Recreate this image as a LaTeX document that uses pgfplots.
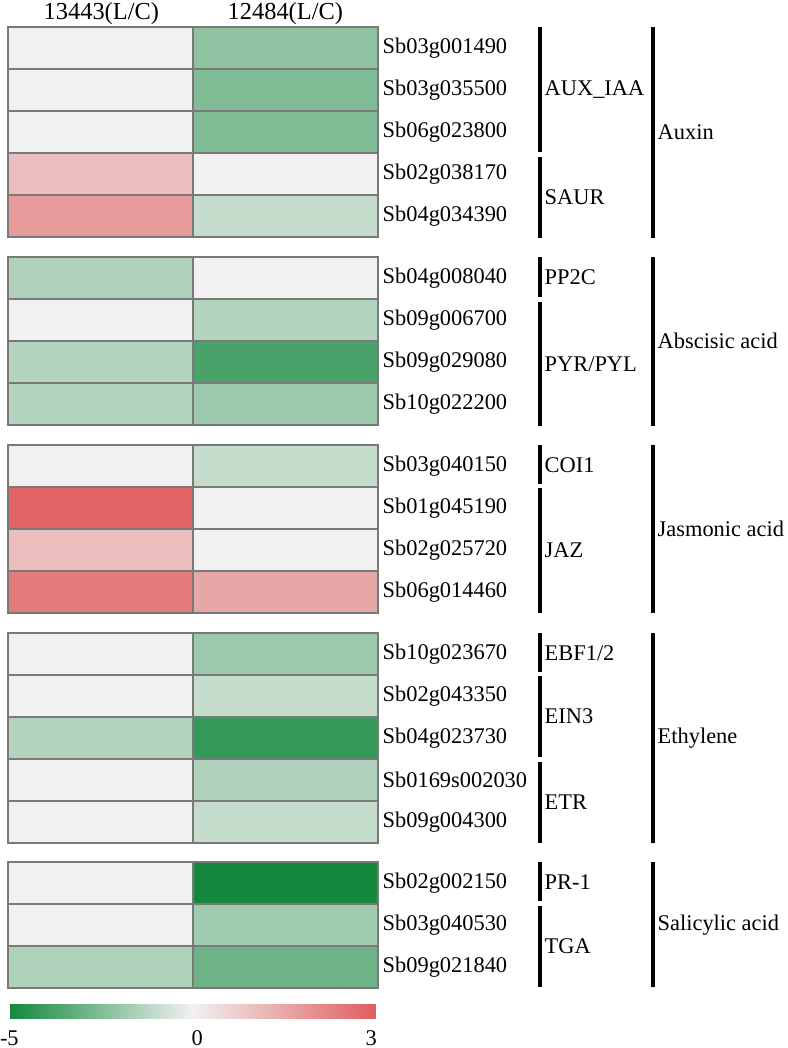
\documentclass[border=0pt]{standalone}
\usepackage{pgfplots}
\pgfplotsset{compat=1.18}
\usepackage{fontspec}
\setmainfont{Liberation Serif}

% pixel-like layout: 1 unit = 0.5pt, y runs downward
\newcommand{\lbl}{\fontsize{11.2}{13.4}\selectfont}
\newcommand{\hdr}{\fontsize{12.2}{14.6}\selectfont}

\begin{document}
\begin{tikzpicture}[
    cell/.style={gray!95!black, line width=1pt},
    lab/.style={font=\lbl, anchor=west, inner sep=0pt},
    brk/.style={line width=2pt},
]
\begin{axis}[
    scale only axis,
    width=393.5pt, height=524pt,
    xmin=0, xmax=787, ymin=0, ymax=1048,
    y dir=reverse,
    hide axis,
    clip=false,
    colormap={gwr}{rgb255(0cm)=(20,137,62); rgb255(5cm)=(241,241,241); rgb255(8cm)=(224,94,94)},
    point meta min=-5, point meta max=3,
]
\path (rel axis cs:0,0) rectangle (rel axis cs:1,1);

% Auxin
\addplot[matrix plot*, mesh/cols=2, point meta=explicit] coordinates {
(100.5,48) [0]    (285.5,48) [-2.25]
(100.5,90) [0]    (285.5,90) [-2.55]
(100.5,132) [0]   (285.5,132) [-2.55]
(100.5,174) [1.07] (285.5,174) [0]
(100.5,216) [1.78] (285.5,216) [-1.0]
};
% Abscisic acid
\addplot[matrix plot*, mesh/cols=2, point meta=explicit] coordinates {
(100.5,278) [-1.47] (285.5,278) [0]
(100.5,320) [0]     (285.5,320) [-1.4]
(100.5,362) [-1.38] (285.5,362) [-3.78]
(100.5,404) [-1.43] (285.5,404) [-1.92]
};
% Jasmonic acid
\addplot[matrix plot*, mesh/cols=2, point meta=explicit] coordinates {
(100.5,466) [0]    (285.5,466) [-1.0]
(100.5,508) [2.9]  (285.5,508) [0]
(100.5,550) [1.07] (285.5,550) [0]
(100.5,592) [2.4]  (285.5,592) [1.5]
};
% Ethylene
\addplot[matrix plot*, mesh/cols=2, point meta=explicit] coordinates {
(100.5,654) [0]     (285.5,654) [-1.92]
(100.5,696) [0]     (285.5,696) [-1.0]
(100.5,738) [-1.43] (285.5,738) [-4.25]
(100.5,780) [0]     (285.5,780) [-1.47]
(100.5,822) [0]     (285.5,822) [-1.0]
};
% Salicylic acid
\addplot[matrix plot*, mesh/cols=2, point meta=explicit] coordinates {
(100.5,883) [0]     (285.5,883) [-5]
(100.5,925) [0]     (285.5,925) [-1.83]
(100.5,967) [-1.54] (285.5,967) [-2.96]
};

% colour bar (0 sits in the middle)
\addplot[surf, shader=interp, mesh/cols=3, point meta=explicit] coordinates {
(10,1004) [-5] (192.5,1004) [0] (375,1004) [3]
(10,1018) [-5] (192.5,1018) [0] (375,1018) [3]
};

% cell borders
\draw[cell] (axis cs:8,27) rectangle (axis cs:378,237);
\draw[cell] (axis cs:193,27) -- (axis cs:193,237);
\draw[cell] (axis cs:8,69) -- (axis cs:378,69);
\draw[cell] (axis cs:8,111) -- (axis cs:378,111);
\draw[cell] (axis cs:8,153) -- (axis cs:378,153);
\draw[cell] (axis cs:8,195) -- (axis cs:378,195);

\draw[cell] (axis cs:8,257) rectangle (axis cs:378,425);
\draw[cell] (axis cs:193,257) -- (axis cs:193,425);
\draw[cell] (axis cs:8,299) -- (axis cs:378,299);
\draw[cell] (axis cs:8,341) -- (axis cs:378,341);
\draw[cell] (axis cs:8,383) -- (axis cs:378,383);

\draw[cell] (axis cs:8,445) rectangle (axis cs:378,613);
\draw[cell] (axis cs:193,445) -- (axis cs:193,613);
\draw[cell] (axis cs:8,487) -- (axis cs:378,487);
\draw[cell] (axis cs:8,529) -- (axis cs:378,529);
\draw[cell] (axis cs:8,571) -- (axis cs:378,571);

\draw[cell] (axis cs:8,633) rectangle (axis cs:378,843);
\draw[cell] (axis cs:193,633) -- (axis cs:193,843);
\draw[cell] (axis cs:8,675) -- (axis cs:378,675);
\draw[cell] (axis cs:8,717) -- (axis cs:378,717);
\draw[cell] (axis cs:8,759) -- (axis cs:378,759);
\draw[cell] (axis cs:8,801) -- (axis cs:378,801);

\draw[cell] (axis cs:8,862) rectangle (axis cs:378,988);
\draw[cell] (axis cs:193,862) -- (axis cs:193,988);
\draw[cell] (axis cs:8,904) -- (axis cs:378,904);
\draw[cell] (axis cs:8,946) -- (axis cs:378,946);

% column headers
\node[font=\hdr, inner sep=0pt] at (axis cs:101,14) {13443(L/C)};
\node[font=\hdr, inner sep=0pt] at (axis cs:285,14) {12484(L/C)};

% gene names
\node[lab] at (axis cs:382,48) {Sb03g001490};
\node[lab] at (axis cs:382,90) {Sb03g035500};
\node[lab] at (axis cs:382,132) {Sb06g023800};
\node[lab] at (axis cs:382,174) {Sb02g038170};
\node[lab] at (axis cs:382,216) {Sb04g034390};
\node[lab] at (axis cs:382,278) {Sb04g008040};
\node[lab] at (axis cs:382,320) {Sb09g006700};
\node[lab] at (axis cs:382,362) {Sb09g029080};
\node[lab] at (axis cs:382,404) {Sb10g022200};
\node[lab] at (axis cs:382,466) {Sb03g040150};
\node[lab] at (axis cs:382,508) {Sb01g045190};
\node[lab] at (axis cs:382,550) {Sb02g025720};
\node[lab] at (axis cs:382,592) {Sb06g014460};
\node[lab] at (axis cs:382,654) {Sb10g023670};
\node[lab] at (axis cs:382,696) {Sb02g043350};
\node[lab] at (axis cs:382,738) {Sb04g023730};
\node[lab] at (axis cs:382,780) {Sb0169s002030};
\node[lab] at (axis cs:382,822) {Sb09g004300};
\node[lab] at (axis cs:382,883) {Sb02g002150};
\node[lab] at (axis cs:382,925) {Sb03g040530};
\node[lab] at (axis cs:382,967) {Sb09g021840};

% gene family brackets
\draw[brk] (axis cs:540,27) -- (axis cs:540,152);
\node[lab] at (axis cs:544,89.5) {AUX\_IAA};
\draw[brk] (axis cs:540,157) -- (axis cs:540,238);
\node[lab] at (axis cs:544,197.5) {SAUR};
\draw[brk] (axis cs:540,257) -- (axis cs:540,297);
\node[lab] at (axis cs:544,277) {PP2C};
\draw[brk] (axis cs:540,302) -- (axis cs:540,426);
\node[lab] at (axis cs:544,364) {PYR/PYL};
\draw[brk] (axis cs:540,445) -- (axis cs:540,484);
\node[lab] at (axis cs:544,465) {COI1};
\draw[brk] (axis cs:540,488) -- (axis cs:540,613);
\node[lab] at (axis cs:544,550) {JAZ};
\draw[brk] (axis cs:540,633) -- (axis cs:540,672);
\node[lab] at (axis cs:544,653) {EBF1/2};
\draw[brk] (axis cs:540,676) -- (axis cs:540,757);
\node[lab] at (axis cs:544,716) {EIN3};
\draw[brk] (axis cs:540,762) -- (axis cs:540,843);
\node[lab] at (axis cs:544,802) {ETR};
\draw[brk] (axis cs:540,862) -- (axis cs:540,901);
\node[lab] at (axis cs:544,882) {PR-1};
\draw[brk] (axis cs:540,906) -- (axis cs:540,987);
\node[lab] at (axis cs:544,946) {TGA};

% hormone brackets
\draw[brk] (axis cs:653,27) -- (axis cs:653,238);
\node[lab] at (axis cs:657,132.5) {Auxin};
\draw[brk] (axis cs:653,257) -- (axis cs:653,426);
\node[lab] at (axis cs:657,341) {Abscisic acid};
\draw[brk] (axis cs:653,445) -- (axis cs:653,613);
\node[lab] at (axis cs:657,529) {Jasmonic acid};
\draw[brk] (axis cs:653,633) -- (axis cs:653,843);
\node[lab] at (axis cs:657,738) {Ethylene};
\draw[brk] (axis cs:653,862) -- (axis cs:653,987);
\node[lab] at (axis cs:657,925) {Salicylic acid};

% colour bar labels
\node[font=\lbl, inner sep=0pt] at (axis cs:9,1038) {-5};
\node[font=\lbl, inner sep=0pt] at (axis cs:197,1038) {0};
\node[font=\lbl, inner sep=0pt] at (axis cs:371,1038) {3};
\end{axis}
\end{tikzpicture}
\end{document}
